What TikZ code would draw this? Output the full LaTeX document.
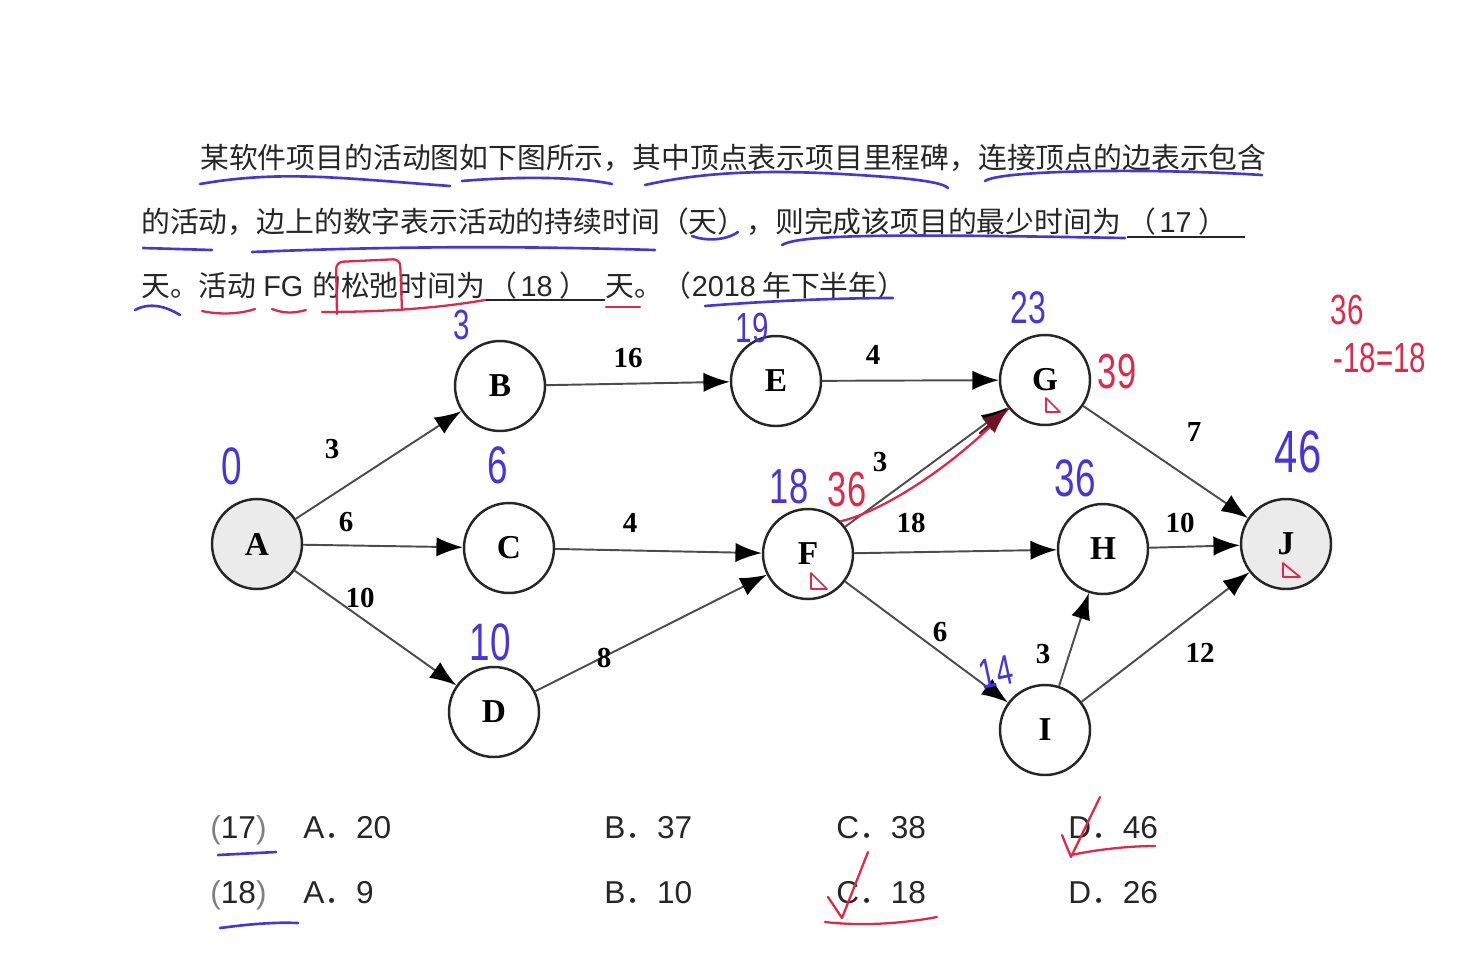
\documentclass[tikz,border=0pt]{standalone}
\usepackage{fontspec}
\setmainfont{Liberation Serif}
\setsansfont{Liberation Sans}
\newfontfamily\cjk{Noto Sans CJK SC}
\usetikzlibrary{arrows.meta}

\definecolor{penblue}{RGB}{72,52,215}
\definecolor{penred}{RGB}{224,40,72}
\newcommand{\thin}[1]{\scalebox{0.7}[1]{#1}}

\begin{document}
\begin{tikzpicture}[
    x=0.02cm, y=-0.02cm,
    >={Latex[length=15pt,width=11pt,color=black]}, % arrow tip of the activity edges
    vtx/.style={circle, draw=black!85, line width=1.4pt, minimum size=1.8cm, inner sep=0pt,
        font=\bfseries\fontsize{19}{19}\selectfont},
    endvtx/.style={vtx, fill=black!8},
    act/.style={->, draw=black!70, line width=1.1pt},
    wt/.style={inner sep=0pt, font=\bfseries\fontsize{16.5}{16.5}\selectfont},
    cn/.style={anchor=base west, inner sep=0pt, text=black!85, font=\cjk\fontsize{16.4}{20}\selectfont},
    opt/.style={anchor=base west, inner sep=0pt, text=black!85, font=\sffamily\fontsize{18}{20}\selectfont},
    bluepen/.style={text=penblue, inner sep=0pt, font=\sffamily\fontsize{#1}{#1}\selectfont},
    bluepen/.default=28,
    redpen/.style={text=penred, inner sep=0pt, font=\sffamily\fontsize{#1}{#1}\selectfont},
    redpen/.default=28,
    blueline/.style={draw=penblue, line width=1.5pt, line cap=round},
    redline/.style={draw=penred, line width=1.3pt, line cap=round, line join=round},
    blank/.style={draw=black!85, line width=1pt}
]
    \useasboundingbox (0,0) rectangle (1463,971);

%    ############# QUESTION TEXT
    \node[cn] (line1) at (200,168) {某软件项目的活动图如下图所示，其中顶点表示项目里程碑，连接顶点的边表示包含};
    \node[cn] (line2) at (141,232) {的活动，边上的数字表示活动的持续时间（天），则完成该项目的最少时间为};
    \node[cn] (q17) at (1127,232) {（\hspace{2pt}{\sffamily 17}\hspace{4pt}）};
    \node[cn] (line3a) at (141,296) {天。活动};
    \node[cn, font=\sffamily\fontsize{16.4}{20}\selectfont] (line3b) at (263,296) {FG};
    \node[cn] (line3c) at (312,296) {的松弛时间为};
    \node[cn] (q18) at (488,296) {（\hspace{2pt}{\sffamily 18}\hspace{4pt}）};
    \node[cn] (line3d) at (605,296) {天。（{\sffamily 2018} 年下半年）};
    \draw[blank] (1127,237) -- (1245,237);
    \draw[blank] (485,300) -- (605,300);

%    ############# VERTICES
    \node[endvtx] (A) at (257,544) {A};
    \node[vtx] (B) at (500,386) {B};
    \node[vtx] (C) at (509,548) {C};
    \node[vtx] (D) at (494,712) {D};
    \node[vtx] (E) at (776,381) {E};
    \node[vtx] (F) at (808,554) {F};
    \node[vtx] (G) at (1045,380) {G};
    \node[vtx] (H) at (1103,549) {H};
    \node[vtx] (I) at (1045,730) {I};
    \node[endvtx] (J) at (1286,544) {J};

%    ############# ACTIVITIES
    \draw[act] (A) -- (B);
    \draw[act] (A) -- (C);
    \draw[act] (A) -- (D);
    \draw[act] (B) -- (E);
    \draw[act] (C) -- (F);
    \draw[act] (D) -- (F);
    \draw[act] (E) -- (G);
    \draw[act] (F) -- (G);
    \draw[act] (F) -- (H);
    \draw[act] (F) -- (I);
    \draw[act] (G) -- (J);
    \draw[act] (H) -- (J);
    \draw[act] (I) -- (H);
    \draw[act] (I) -- (J);

    % durations
    \node[wt] (wAB) at (332,449) {3};
    \node[wt] (wAC) at (346,522) {6};
    \node[wt] (wAD) at (360,598) {10};
    \node[wt] (wBE) at (628,358) {16};
    \node[wt] (wCF) at (630,523) {4};
    \node[wt] (wDF) at (604,658) {8};
    \node[wt] (wEG) at (873,355) {4};
    \node[wt] (wFG) at (880,462) {3};
    \node[wt] (wFH) at (911,523) {18};
    \node[wt] (wFI) at (940,632) {6};
    \node[wt] (wGJ) at (1194,432) {7};
    \node[wt] (wHJ) at (1180,523) {10};
    \node[wt] (wIH) at (1043,654) {3};
    \node[wt] (wIJ) at (1200,653) {12};

%    ############# CHOICES
    \node[opt] (c17) at (210,838) {{\color{black!50}(}17{\color{black!50})}};
    \node[opt] (c17a) at (303,838) {A{\cjk ．}20};
    \node[opt] (c17b) at (604,838) {B{\cjk ．}37};
    \node[opt] (c17c) at (836,838) {C{\cjk ．}38};
    \node[opt] (c17d) at (1068,838) {D{\cjk ．}46};
    \node[opt] (c18) at (210,903) {{\color{black!50}(}18{\color{black!50})}};
    \node[opt] (c18a) at (303,903) {A{\cjk ．}9};
    \node[opt] (c18b) at (604,903) {B{\cjk ．}10};
    \node[opt] (c18c) at (836,903) {C{\cjk ．}18};
    \node[opt] (c18d) at (1068,903) {D{\cjk ．}26};

%    ######## handwritten: earliest times (blue)
    \node[bluepen=30] (eA) at (232,466) {\thin{0}};
    \node[bluepen=24] (eB) at (462,325) {\thin{3}};
    \node[bluepen=30] (eC) at (498,465) {\thin{6}};
    \node[bluepen=30] (eD) at (490,642) {\thin{10}};
    \node[bluepen=24] (eE) at (752,328) {\thin{19}};
    \node[bluepen=28] (eF) at (789,487) {\thin{18}};
    \node[bluepen=26] (eG) at (1028,308) {\thin{23}};
    \node[bluepen=30] (eH) at (1075,478) {\thin{36}};
    \node[bluepen=24, rotate=12] (eI) at (996,672) {\thin{14}};
    \node[bluepen=34] (eJ) at (1298,452) {\thin{46}};

%    ######## handwritten: latest times and slack (red)
    \node[redpen=28] (lF) at (847,490) {\thin{36}};
    \node[redpen=28] (lG) at (1117,372) {\thin{39}};
    \node[redpen=24] (s1) at (1347,310) {\thin{36}};
    \node[redpen=24] (s2) at (1380,358) {\thin{-18=18}};
    \draw[redline] (F.45) .. controls (880,512) and (950,470) .. (G.218);
    \draw[redline, -{Latex[length=15pt,width=11pt]}, draw=penred!50!black, fill=penred!50!black] (980,433) -- (G.218);
    % critical marks
    \draw[redline, line width=1pt] (1046,398) -- (1046,412) -- (1060,412) -- cycle;
    \draw[redline, line width=1pt] (811,573) -- (811,589) -- (827,589) -- cycle;
    \draw[redline, line width=1pt] (1283,563) -- (1283,577) -- (1300,577) -- cycle;

%    ######## underlines and marks
    \draw[blueline] (200,184) .. controls (280,170) and (340,178) .. (450,186);
    \draw[blueline] (462,181) .. controls (520,176) and (580,177) .. (612,184);
    \draw[blueline] (645,185) .. controls (720,168) and (800,170) .. (900,178) .. controls (930,181) and (944,184) .. (948,188);
    \draw[blueline] (985,181) .. controls (1000,170) and (1150,168) .. (1262,175);
    \draw[blueline] (143,248) -- (212,250);
    \draw[blueline] (252,252) .. controls (400,246) and (520,246) .. (655,250);
    \draw[blueline] (692,236) .. controls (705,241) and (725,241) .. (738,232);
    \draw[blueline] (782,245) .. controls (800,234) and (900,234) .. (1125,238);
    \draw[blueline] (135,310) .. controls (150,302) and (165,306) .. (180,315);
    \draw[redline] (202,311) .. controls (220,315) and (240,314) .. (255,309);
    \draw[redline] (272,309) .. controls (285,314) and (295,313) .. (306,310);
    \draw[redline] (322,312) .. controls (400,312) and (450,306) .. (485,300);
    \draw[redline, rounded corners=4pt] (337,314) -- (336,262) -- (400,259) -- (402,310);
    \draw[redline] (606,307) -- (640,307);
    \draw[blueline] (705,306) .. controls (780,300) and (850,298) .. (893,298);
    \draw[blueline] (218,855) -- (276,852);
    \draw[blueline] (220,928) .. controls (250,924) and (275,922) .. (298,923);
    \draw[redline] (1062,835) -- (1071,857) -- (1100,797);
    \draw[redline] (1071,855) .. controls (1100,849) and (1130,846) .. (1155,846);
    \draw[redline] (828,897) -- (842,918) -- (868,852);
    \draw[redline] (825,922) .. controls (860,926) and (900,924) .. (937,917);

\end{tikzpicture}
\end{document}
